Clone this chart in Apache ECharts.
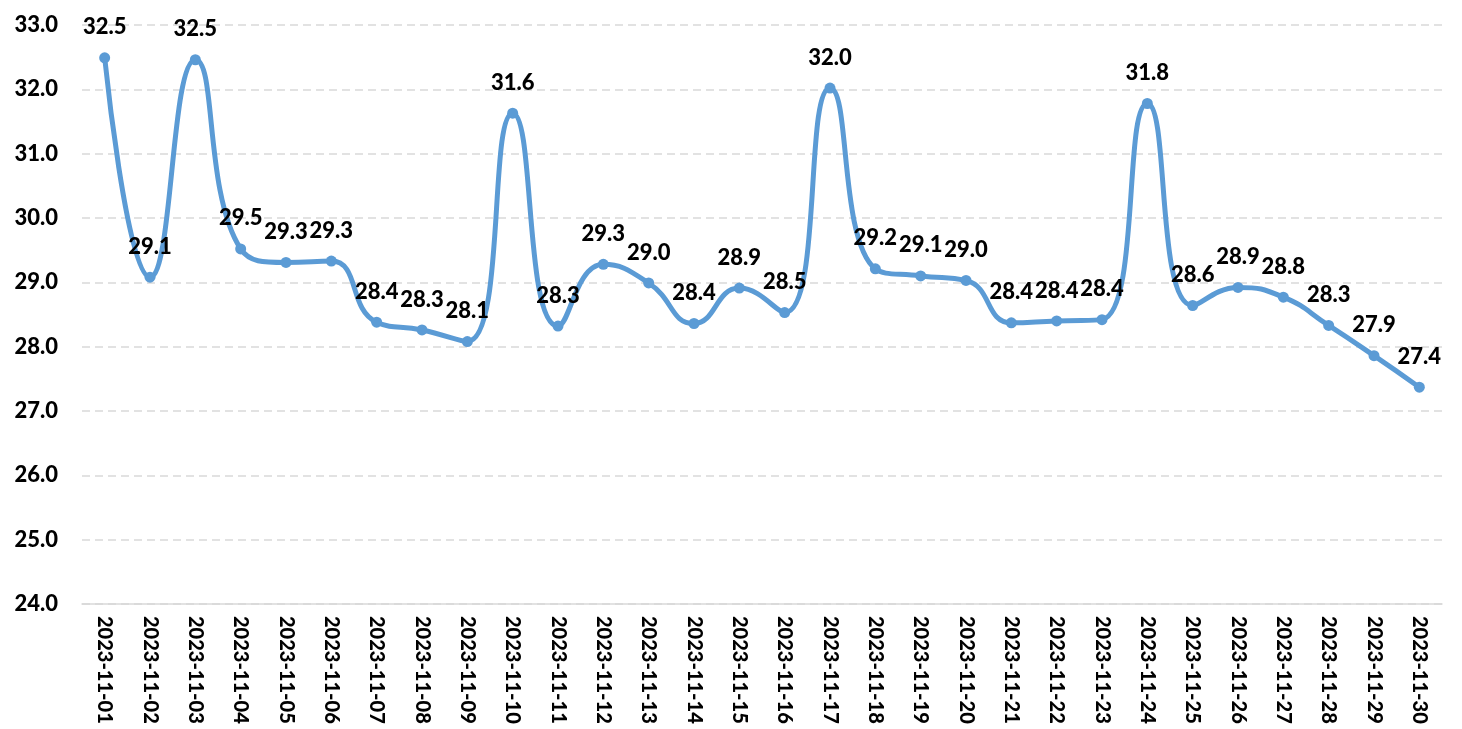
<html>

<head>
    <script src="https://cdn.jsdelivr.net/npm/echarts@6.0.0/dist/echarts.min.js"></script>

    <style>
        body {
            margin: 0
        }
        #chart {
            width: 1462px;
            height: 729px;
        }
    </style>
</head>

<body>
    <div id="chart"></div>

    <script>
        const dates = [
            '2023-11-01', '2023-11-02', '2023-11-03', '2023-11-04', '2023-11-05',
            '2023-11-06', '2023-11-07', '2023-11-08', '2023-11-09', '2023-11-10',
            '2023-11-11', '2023-11-12', '2023-11-13', '2023-11-14', '2023-11-15',
            '2023-11-16', '2023-11-17', '2023-11-18', '2023-11-19', '2023-11-20',
            '2023-11-21', '2023-11-22', '2023-11-23', '2023-11-24', '2023-11-25',
            '2023-11-26', '2023-11-27', '2023-11-28', '2023-11-29', '2023-11-30'
        ];
        const values = [
            32.49, 29.08, 32.46, 29.52, 29.31,
            29.33, 28.38, 28.26, 28.08, 31.63,
            28.32, 29.28, 28.99, 28.36, 28.91,
            28.53, 32.02, 29.21, 29.1, 29.03,
            28.37, 28.4, 28.42, 31.78, 28.64,
            28.92, 28.77, 28.33, 27.86, 27.37
        ];
        const yMin = 24;
        const yMax = 33;

        const font = 'Lato';
        const chart = echarts.init(document.getElementById('chart'));

        chart.setOption({
            animation: false,
            grid: { left: 82, right: 20, top: 25, bottom: 125 },
            xAxis: {
                type: 'category',
                data: dates,
                boundaryGap: true,
                axisLine: { lineStyle: { color: '#d9d9d9', width: 1.5 } },
                axisTick: { show: false },
                axisLabel: {
                    rotate: -90,
                    margin: 12,
                    color: '#000',
                    fontFamily: font,
                    fontWeight: 900,
                    fontSize: 20,
                    interval: 0
                }
            },
            yAxis: {
                type: 'value',
                min: yMin,
                max: yMax,
                interval: 1,
                axisLine: { show: false },
                axisTick: { show: false },
                splitLine: { lineStyle: { color: '#d9d9d9', type: [8, 5], width: 1.5 } },
                axisLabel: {
                    margin: 24,
                    color: '#000',
                    fontFamily: font,
                    fontWeight: 900,
                    fontSize: 22,
                    formatter: v => v.toFixed(1)
                }
            },
            series: [{
                type: 'line',
                data: values,
                smooth: 0.5,
                symbol: 'circle',
                symbolSize: 11,
                lineStyle: { color: '#5b9bd5', width: 5 },
                itemStyle: { color: '#5b9bd5' },
                label: {
                    show: true,
                    position: 'top',
                    distance: 8,
                    color: '#000',
                    fontFamily: font,
                    fontWeight: 900,
                    fontSize: 22,
                    formatter: p => p.value.toFixed(1)
                }
            }]
        });
    </script>
</body>

</html>
